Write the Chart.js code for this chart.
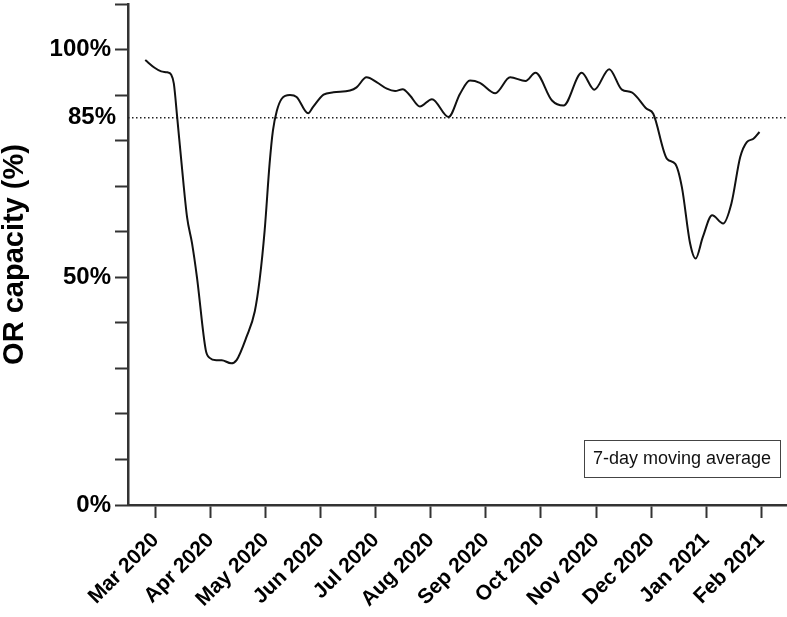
<!DOCTYPE html>
<html>
<head>
<meta charset="utf-8">
<script src="https://cdn.jsdelivr.net/npm/chart.js@4"></script>
<style>
  html, body { margin: 0; padding: 0; background: #fff; }
</style>
</head>
<body>
<canvas id="orChart" width="787" height="617"></canvas>
<script>
// month tick labels (tick i sits at x = i)
const monthLabels = ["Mar 2020", "Apr 2020", "May 2020", "Jun 2020", "Jul 2020", "Aug 2020",
                     "Sep 2020", "Oct 2020", "Nov 2020", "Dec 2020", "Jan 2021", "Feb 2021"];

// position of each reading, in months from the Mar 2020 tick
const monthPos = [-0.19, -0.02, 0.10, 0.21, 0.28, 0.33, 0.39, 0.47, 0.57, 0.66,
                  0.75, 0.91, 0.98, 1.10, 1.20, 1.37, 1.47, 1.65, 1.80, 1.89,
                  1.98, 2.07, 2.13, 2.20, 2.29, 2.44, 2.56, 2.77, 2.86, 3.05,
                  3.23, 3.53, 3.65, 3.83, 4.02, 4.20, 4.35, 4.49, 4.62, 4.80,
                  5.02, 5.32, 5.53, 5.71, 5.89, 6.17, 6.44, 6.72, 6.90, 7.20,
                  7.41, 7.74, 7.97, 8.24, 8.47, 8.65, 8.92, 9.04, 9.29, 9.44,
                  9.56, 9.71, 9.81, 9.94, 10.11, 10.31, 10.46, 10.62, 10.74, 10.86,
                  10.97];

// OR capacity, 7-day moving average (%)
const capacity = [97.7, 96.0, 95.2, 95.0, 94.5, 92.5, 85.2, 75.0, 63.2, 57.5,
                  50.0, 34.0, 32.3, 31.8, 31.8, 31.1, 31.8, 36.9, 42.5, 49.6,
                  60.3, 75.0, 82.2, 86.5, 89.2, 90.0, 89.6, 86.0, 87.4, 90.1,
                  90.6, 91.0, 91.7, 93.9, 92.8, 91.4, 90.9, 91.3, 89.9, 87.5,
                  89.1, 85.2, 90.3, 93.2, 92.7, 90.4, 93.9, 93.1, 94.9, 88.8,
                  87.7, 94.9, 91.2, 95.7, 91.2, 90.6, 87.0, 85.9, 76.0, 74.9,
                  69.8, 57.4, 54.1, 58.8, 63.6, 61.8, 66.2, 76.4, 79.7, 80.4,
                  81.9];

const yTicks = [0, 10, 20, 30, 40, 50, 60, 70, 80, 90, 100, 110];
const yLabelled = [0, 50, 100];
const threshold = 85;
const xMin = -0.503, xMax = 11.47;
const noteText = "7-day moving average";

const FONT = "'Liberation Sans', Arial, Helvetica, sans-serif";
const AXIS = "#333";

// text box in the lower right and the 85% label (it has no tick mark)
const extras = {
    id: "extras",
    afterDraw(chart) {
        const { ctx, chartArea, scales } = chart;
        ctx.save();
        ctx.fillStyle = "#000";
        ctx.font = "bold 24px " + FONT;
        ctx.textAlign = "right";
        ctx.textBaseline = "middle";
        ctx.fillText(threshold + "%", chartArea.left - 12, scales.y.getPixelForValue(threshold));

        const w = 196, h = 37;
        const x = chartArea.right - 7 - w;
        const y = chartArea.bottom - 28 - h;
        ctx.strokeStyle = "#444";
        ctx.lineWidth = 1;
        ctx.strokeRect(x + 0.5, y + 0.5, w, h);
        ctx.fillStyle = "#111";
        ctx.font = "18px " + FONT;
        ctx.textAlign = "center";
        ctx.fillText(noteText, x + w / 2, y + h / 2 + 1);
        ctx.restore();
    }
};

new Chart(document.getElementById("orChart"), {
    type: "line",
    data: {
        datasets: [
            {
                data: monthPos.map((m, i) => ({ x: m, y: capacity[i] })),
                borderColor: "#111",
                borderWidth: 2,
                pointRadius: 0,
                cubicInterpolationMode: "monotone",
                fill: false
            },
            {
                data: [{ x: xMin, y: threshold }, { x: xMax, y: threshold }],
                borderColor: "#222",
                borderWidth: 1.5,
                borderDash: [1.5, 2.5],
                pointRadius: 0,
                fill: false
            }
        ]
    },
    options: {
        responsive: false,
        devicePixelRatio: 1,
        animation: false,
        layout: { padding: { top: 4, right: 0, left: 0, bottom: 0 } },
        plugins: {
            legend: { display: false },
            tooltip: { enabled: false }
        },
        scales: {
            x: {
                type: "linear",
                min: xMin,
                max: xMax,
                afterBuildTicks: s => { s.ticks = monthLabels.map((_, i) => ({ value: i })); },
                afterFit: s => { s.height = 112; s.paddingRight = 0; },
                ticks: {
                    autoSkip: false,
                    maxRotation: 45,
                    minRotation: 45,
                    padding: 10,
                    color: "#000",
                    font: { family: FONT, size: 21, weight: "bold" },
                    callback: v => monthLabels[v]
                },
                grid: { drawOnChartArea: false, tickLength: 13, tickWidth: 2, tickColor: AXIS },
                border: { color: AXIS, width: 2.5 }
            },
            y: {
                min: 0,
                max: 110,
                afterBuildTicks: s => { s.ticks = yTicks.map(v => ({ value: v })); },
                afterFit: s => { s.width = 128; s.paddingTop = 0; s.paddingBottom = 0; },
                ticks: {
                    autoSkip: false,
                    padding: 4,
                    color: "#000",
                    font: { family: FONT, size: 24, weight: "bold" },
                    callback: v => yLabelled.includes(v) ? v + "%" : ""
                },
                grid: { drawOnChartArea: false, tickLength: 13, tickWidth: 2, tickColor: AXIS },
                border: { color: AXIS, width: 2.5 },
                title: {
                    display: true,
                    text: "OR capacity (%)",
                    color: "#000",
                    padding: 0,
                    font: { family: FONT, size: 29, weight: "bold", lineHeight: 1 }
                }
            }
        }
    },
    plugins: [extras]
});
</script>
</body>
</html>
